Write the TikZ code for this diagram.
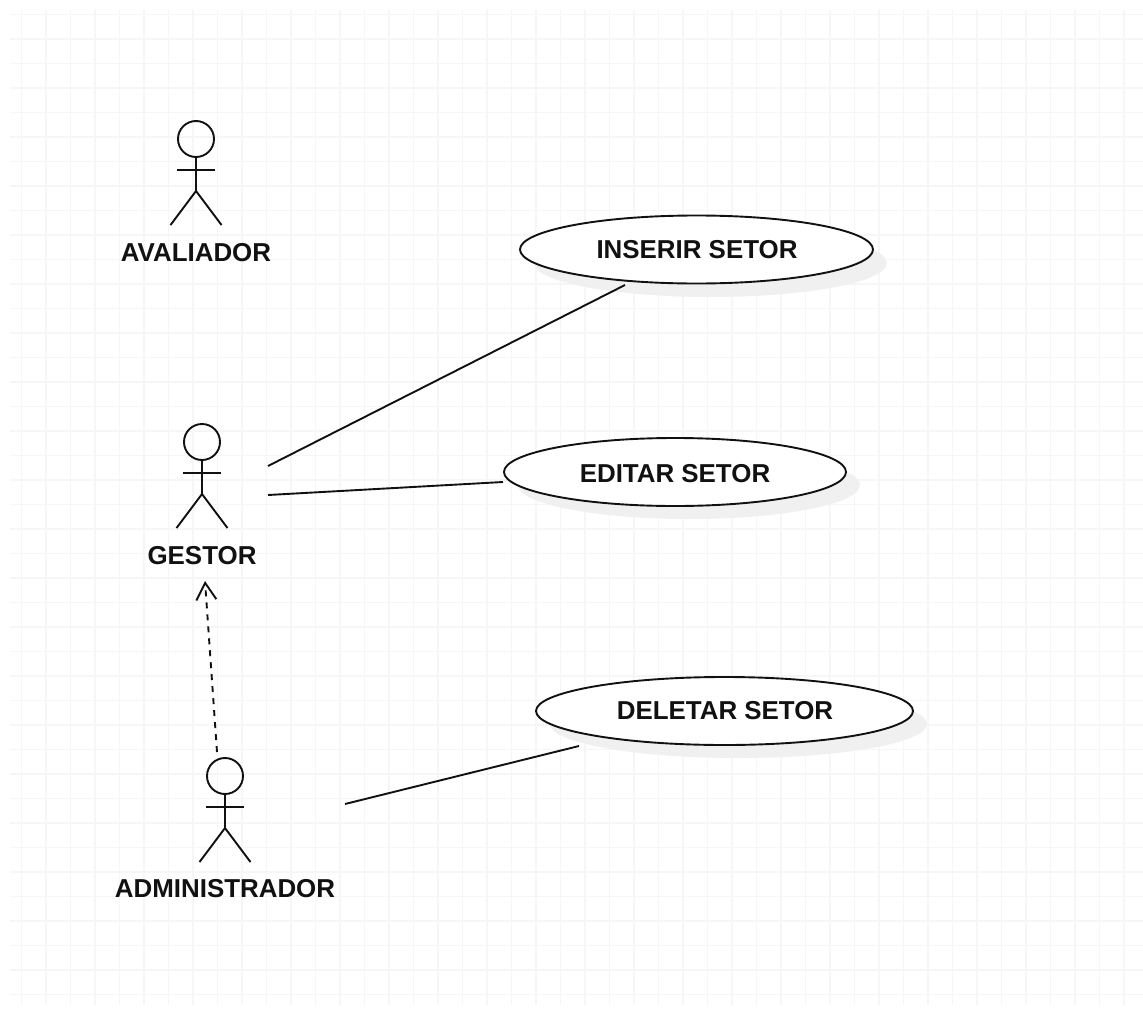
\documentclass[tikz,border=0pt]{standalone}
\usepackage{fontspec}
\setmainfont{Liberation Sans}
\usetikzlibrary{shapes.geometric,arrows.meta}
\definecolor{gridc}{HTML}{F6F6F6}
\definecolor{shadowc}{HTML}{F0F0F0}
\definecolor{inkc}{HTML}{111111}
\tikzset{
  x=1pt,y=-1pt,
  gridline/.style={draw=gridc,line width=1.5pt},
  usecase/.style={ellipse,draw=inkc,fill=white,line width=1.9pt,inner sep=0pt,minimum width=#1,minimum height=68pt},
  usecaseshadow/.style={ellipse,fill=shadowc,inner sep=0pt,minimum width=#1,minimum height=68pt},
  lbl/.style={font=\fontsize{25.9}{30}\selectfont\bfseries,text=inkc,inner sep=0pt},
  assoc/.style={draw=inkc,line width=1.9pt},
  dep/.style={draw=inkc,line width=1.9pt,dash pattern=on 6pt off 6pt,-{Straight Barb[length=17pt,width=20pt,line width=1.9pt]}},
  head/.style={circle,draw=inkc,line width=1.9pt,minimum size=36pt,inner sep=0pt},
  pics/actor/.style={code={
    \node[head] (-head) at (0,0) {};
    \coordinate (-hip) at (0,52);
    \coordinate (-armL) at (-19,31);
    \coordinate (-armR) at (19,31);
    \coordinate (-legL) at (-25.5,86);
    \coordinate (-legR) at (25.5,86);
    \draw[assoc] (-head) -- (-hip);
    \draw[assoc] (-armL) -- (-armR);
    \draw[assoc] (-legL) -- (-hip) -- (-legR);
  }}
}
\begin{document}
\begin{tikzpicture}
\useasboundingbox (0,0) rectangle (1143,1009);
\fill[white] (0,0) rectangle (1143,1009);
\foreach \i in {0,...,46} \draw[gridline] ({21.7+24.5*\i},10) -- ({21.7+24.5*\i},1005);
\foreach \i in {0,...,40} \draw[gridline] (10,{14.5+24.5*\i}) -- (1143,{14.5+24.5*\i});

\node[usecaseshadow=353pt] (s1) at (710.5,263) {};
\node[usecaseshadow=342pt] (s2) at (689,485) {};
\node[usecaseshadow=377pt] (s3) at (738.5,724) {};
\node[usecase=353pt] (inserir) at (696.5,249.5) {};
\node[usecase=342pt] (editar) at (675,472) {};
\node[usecase=377pt] (deletar) at (724.5,711) {};
\node[lbl] (tinserir) at (697,250) {INSERIR SETOR};
\node[lbl] (teditar) at (675,474) {EDITAR SETOR};
\node[lbl] (tdeletar) at (725,711) {DELETAR SETOR};

\pic (av) at (196,139) {actor};
\pic (ge) at (202,442) {actor};
\pic (ad) at (225,776) {actor};
\node[lbl] (lav) at (196,253) {AVALIADOR};
\node[lbl] (lge) at (202,556) {GESTOR};
\node[lbl] (lad) at (225,889) {ADMINISTRADOR};

\coordinate (g1) at (268,466);
\coordinate (g2) at (268,495);
\coordinate (a1) at (345,804);
\coordinate (i1) at (625,285);
\coordinate (e1) at (503,482);
\coordinate (d1) at (579,746);
\coordinate (depS) at (217,752);
\coordinate (depE) at (205,581);
\draw[assoc] (g1) -- (i1);
\draw[assoc] (g2) -- (e1);
\draw[assoc] (a1) -- (d1);
\draw[dep] (depS) -- (depE);
\end{tikzpicture}
\end{document}
